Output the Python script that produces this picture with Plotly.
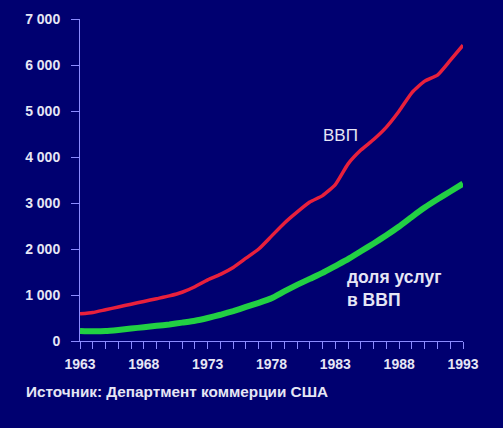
import plotly.graph_objects as go

years = list(range(1963, 1994))
gdp = [590, 620, 680, 740, 800, 860, 920, 980, 1060, 1180,
       1330, 1450, 1600, 1800, 2000, 2280, 2560, 2800, 3020, 3160,
       3400, 3850, 4150, 4380, 4650, 5000, 5400, 5650, 5780, 6100, 6430]
services = [220, 210, 215, 240, 270, 300, 330, 360, 400, 440,
            500, 570, 650, 740, 830, 930, 1080, 1220, 1350, 1480,
            1630, 1780, 1950, 2120, 2300, 2490, 2700, 2900, 3080, 3250, 3420]
ytick_vals = [0, 1000, 2000, 3000, 4000, 5000, 6000, 7000]
ytick_text = ["0", "1 000", "2 000", "3 000", "4 000", "5 000", "6 000", "7 000"]
xtick_vals = [1963, 1968, 1973, 1978, 1983, 1988, 1993]

bg = "#000070"
axis_col = "#8c8cff"
txt = "#e6e6f5"
font = "Liberation Sans"

fig = go.Figure()
fig.add_trace(go.Scatter(x=years, y=services, mode="lines",
                         line=dict(color="#22d043", width=6, shape="spline", smoothing=0.5)))
fig.add_trace(go.Scatter(x=years, y=gdp, mode="lines",
                         line=dict(color="#e8203c", width=3.5, shape="spline", smoothing=0.5)))

fig.add_annotation(x=1983.4, y=4460, text="ВВП", showarrow=False,
                   font=dict(family=font, size=17, color=txt))
fig.add_annotation(x=1983.75, y=1150, text="<b>доля услуг<br>в ВВП</b>", showarrow=False,
                   xanchor="left", align="left",
                   font=dict(family=font, size=17.5, color=txt))
fig.add_annotation(xref="paper", yref="paper", x=-0.146, y=-0.158,
                   text="<b>Источник: Департмент коммерции США</b>", showarrow=False,
                   xanchor="left", yanchor="middle",
                   font=dict(family=font, size=15.3, color=txt))

fig.update_layout(
    width=503, height=428,
    margin=dict(l=80, r=40, t=19, b=87),
    paper_bgcolor=bg, plot_bgcolor=bg,
    showlegend=False,
    font=dict(family=font, color=txt),
)
fig.update_xaxes(range=[1963, 1993], tickvals=xtick_vals, showgrid=False, zeroline=False,
                 showline=True, linecolor=axis_col, linewidth=1,
                 ticks="outside", ticklen=7, tickcolor=axis_col,
                 minor=dict(dtick=1, tick0=1963, ticks="outside", ticklen=7, tickcolor=axis_col),
                 tickfont=dict(family=font, size=14, color=txt, weight="bold"), ticklabelstandoff=3)
fig.update_yaxes(range=[0, 7000], tickvals=ytick_vals, ticktext=ytick_text,
                 showgrid=False, zeroline=False,
                 showline=True, linecolor=axis_col, linewidth=1,
                 ticks="outside", ticklen=8, tickcolor=axis_col,
                 tickfont=dict(family=font, size=14, color=txt, weight="bold"), ticklabelstandoff=8)

fig.write_html("out.html", config={"displayModeBar": False},
               post_script="document.body.style.margin='0';")
